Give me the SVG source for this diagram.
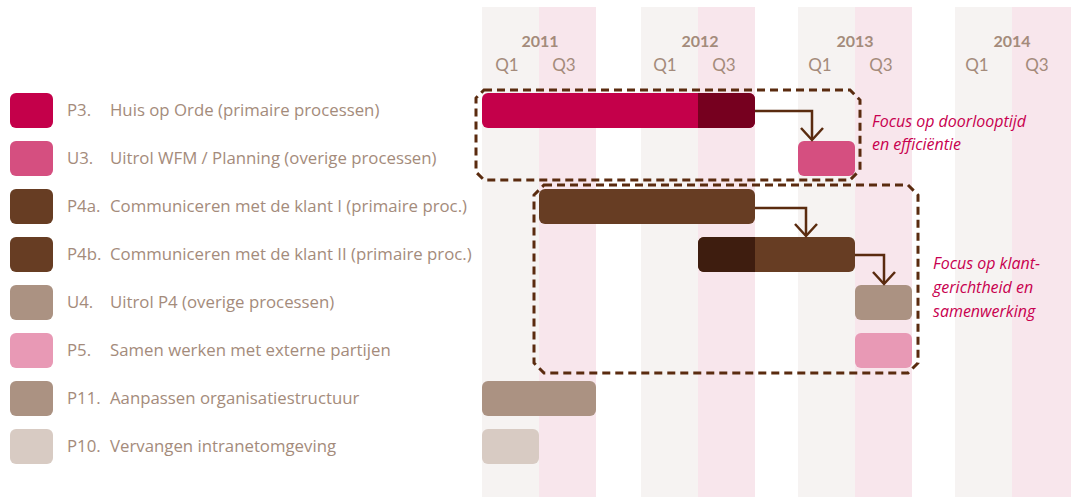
<svg xmlns="http://www.w3.org/2000/svg" width="1071" height="497" viewBox="0 0 1071 497">
<style>
.cg{fill:#f6f3f2}
.cp{fill:#f8e6ec}
.yr{font-family:Lato,"Open Sans",sans-serif;font-weight:bold;font-size:16px;fill:#a48b7b;text-anchor:middle}
.q{font-family:Lato,"Open Sans",sans-serif;font-size:17px;fill:#a48b7b;text-anchor:middle}
.lb{font-family:"Open Sans",Lato,sans-serif;font-size:16.8px;fill:#a48b7b}
.an{font-family:"Open Sans",Lato,sans-serif;font-style:italic;font-size:16px;fill:#c8004f}
.box{fill:none;stroke:#5a2b0f;stroke-width:3;stroke-dasharray:8 5}
.con{fill:none;stroke:#5a2b0f;stroke-width:2.5}
.head{fill:none;stroke:#5a2b0f;stroke-width:2.5}
</style>
<rect width="1071" height="497" fill="#fff"/>
<g id="timeline">
<rect class="cg" x="482" y="7" width="57" height="490"/>
<rect class="cp" x="539" y="7" width="57" height="490"/>
<rect class="cg" x="641" y="7" width="57" height="490"/>
<rect class="cp" x="698" y="7" width="57" height="490"/>
<rect class="cg" x="798" y="7" width="57" height="490"/>
<rect class="cp" x="855" y="7" width="57" height="490"/>
<rect class="cg" x="955" y="7" width="57" height="490"/>
<rect class="cp" x="1012" y="7" width="59" height="490"/>
<text class="yr" x="540" y="47">2011</text>
<text class="yr" x="700" y="47">2012</text>
<text class="yr" x="855" y="47">2013</text>
<text class="yr" x="1012" y="47">2014</text>
<text class="q" x="507" y="71">Q1</text><text class="q" x="564" y="71">Q3</text>
<text class="q" x="665" y="71">Q1</text><text class="q" x="724" y="71">Q3</text>
<text class="q" x="820" y="71">Q1</text><text class="q" x="881" y="71">Q3</text>
<text class="q" x="977" y="71">Q1</text><text class="q" x="1037" y="71">Q3</text>
</g>
<g id="legend">
<rect x="10" y="93" width="43" height="35" rx="6" fill="#c4004a"/>
<text class="lb" x="67" y="116">P3.</text><text class="lb" x="110" y="116">Huis op Orde (primaire processen)</text>
<rect x="10" y="141" width="43" height="35" rx="6" fill="#d54f80"/>
<text class="lb" x="67" y="164">U3.</text><text class="lb" x="110" y="164">Uitrol WFM / Planning (overige processen)</text>
<rect x="10" y="189" width="43" height="35" rx="6" fill="#673d23"/>
<text class="lb" x="67" y="212">P4a.</text><text class="lb" x="110" y="212">Communiceren met de klant I (primaire proc.)</text>
<rect x="10" y="237" width="43" height="35" rx="6" fill="#673d23"/>
<text class="lb" x="67" y="260">P4b.</text><text class="lb" x="110" y="260">Communiceren met de klant II (primaire proc.)</text>
<rect x="10" y="285" width="43" height="35" rx="6" fill="#ab9282"/>
<text class="lb" x="67" y="308">U4.</text><text class="lb" x="110" y="308">Uitrol P4 (overige processen)</text>
<rect x="10" y="333" width="43" height="35" rx="6" fill="#e899b5"/>
<text class="lb" x="67" y="356">P5.</text><text class="lb" x="110" y="356">Samen werken met externe partijen</text>
<rect x="10" y="381" width="43" height="35" rx="6" fill="#ab9282"/>
<text class="lb" x="67" y="404">P11.</text><text class="lb" x="110" y="404">Aanpassen organisatiestructuur</text>
<rect x="10" y="429" width="43" height="35" rx="6" fill="#d8cbc3"/>
<text class="lb" x="67" y="452">P10.</text><text class="lb" x="110" y="452">Vervangen intranetomgeving</text>
</g>
<g id="bar-P3">
<rect x="482" y="93" width="273" height="35" rx="6" fill="#c4004a"/>
<path d="M698,93 H749 A6,6 0 0 1 755,99 V122 A6,6 0 0 1 749,128 H698 Z" fill="#76001f"/>
</g>
<g id="bar-U3"><rect x="798" y="141" width="57" height="35" rx="6" fill="#d54f80"/></g>
<g id="bar-P4a"><rect x="539" y="189" width="216" height="35" rx="6" fill="#673d23"/></g>
<g id="bar-P4b">
<rect x="698" y="237" width="157" height="35" rx="6" fill="#673d23"/>
<path d="M755,237 H704 A6,6 0 0 0 698,243 V266 A6,6 0 0 0 704,272 H755 Z" fill="#3e1d0f"/>
</g>
<g id="bar-U4"><rect x="855" y="285" width="57" height="35" rx="6" fill="#ab9282"/></g>
<g id="bar-P5"><rect x="855" y="333" width="57" height="35" rx="6" fill="#e899b5"/></g>
<g id="bar-P11"><rect x="482" y="381" width="114" height="35" rx="6" fill="#ab9282"/></g>
<g id="bar-P10"><rect x="482" y="429" width="57" height="35" rx="6" fill="#d8cbc3"/></g>
<g id="connectors">
<path class="con" d="M755,111 H812 V139"/>
<path class="head" d="M801,128 L812,140 L823,128"/>
<path class="con" d="M755,208 H806 V235"/>
<path class="head" d="M795,224 L806,236 L817,224"/>
<path class="con" d="M855,255 H884 V283"/>
<path class="head" d="M873,272 L884,284 L895,272"/>
</g>
<g id="focus-boxes">
<path class="box" d="M484,90 H850 L860,100 V170 L850,180 H484 L476,172 V98 Z"/>
<path class="box" d="M544,185 H908 L918,195 V363 L908,373 H544 L534,363 V195 Z"/>
</g>
<g id="annotations">
<text class="an" x="872" y="127">Focus op doorlooptijd</text>
<text class="an" x="872" y="150">en efficiëntie</text>
<text class="an" x="933" y="269">Focus op klant-</text>
<text class="an" x="933" y="293">gerichtheid en</text>
<text class="an" x="933" y="317">samenwerking</text>
</g>
</svg>
